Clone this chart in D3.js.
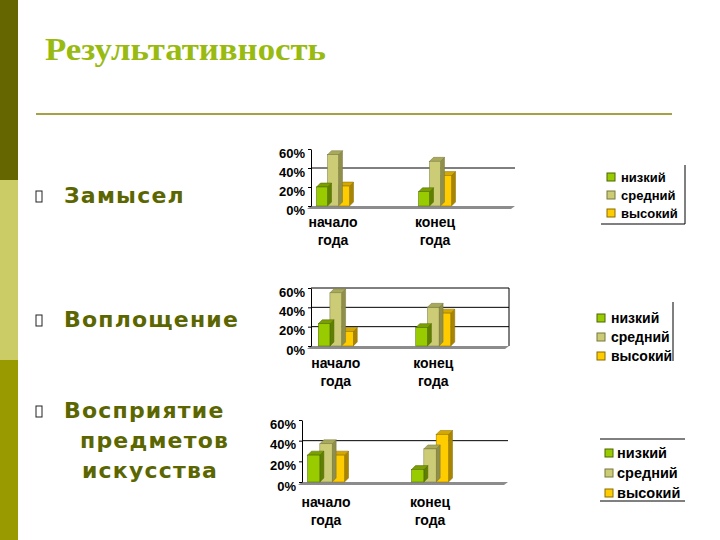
<!DOCTYPE html>
<html>
<head>
<meta charset="utf-8">
<script src="https://cdn.jsdelivr.net/npm/d3@7"></script>
<style>
  body { margin: 0; background: #fff; }
  svg { display: block; }
  .title { font-family: "Liberation Serif", "DejaVu Serif", "Times New Roman", serif; font-weight: bold; }
</style>
</head>
<body>
<div id="slide"></div>
<script>

// data
const categories = ["начало года", "конец года"];
const seriesNames = ["низкий", "средний", "высокий"];
const yTicks = [0, 20, 40, 60];

// per category: низкий, средний, высокий (%)
const zamysel = [[20, 54, 21], [15, 47, 32]];
const voploshchenie = [[23, 55, 15], [19, 40, 34]];
const vospriyatie = [[26, 37, 26], [12, 32, 46]];

const bulletLines = [
  { text: "Замысел", x: 64, y: 203, bullet: true },
  { text: "Воплощение", x: 64, y: 327, bullet: true },
  { text: "Восприятие", x: 64, y: 418, bullet: true },
  { text: "предметов", x: 80, y: 448, bullet: false },
  { text: "искусства", x: 82, y: 478, bullet: false }
];

const width = 720;
const height = 540;

const front = ["#99cc00", "#cccc77", "#ffcc00"];
const side = ["#5f7f00", "#8f8f4a", "#a88400"];
const topc = ["#7a9f00", "#a9a95c", "#d4a800"];
const edge = ["#4d6600", "#77773c", "#8a6c00"];

const svg = d3.select("#slide")
  .append("svg")
  .attr("width", width)
  .attr("height", height);

// left strip
const strip = [["#666600", 0, 180], ["#cccc66", 180, 360], ["#999900", 360, 540]];
svg.selectAll(".strip")
  .data(strip)
  .enter().append("rect")
  .attr("x", 0)
  .attr("y", d => d[1])
  .attr("width", 18)
  .attr("height", d => d[2] - d[1])
  .attr("fill", d => d[0]);

// title
svg.append("text")
  .attr("class", "title")
  .attr("x", 45)
  .attr("y", 60)
  .attr("font-size", 32)
  .attr("textLength", 281)
  .attr("lengthAdjust", "spacingAndGlyphs")
  .attr("fill", "#99bb11")
  .text("Результативность");

svg.append("line")
  .attr("x1", 36).attr("x2", 672)
  .attr("y1", 114).attr("y2", 114)
  .attr("stroke", "#a3a345")
  .attr("stroke-width", 2);

// bullets
const bl = svg.append("g")
  .style("font-family", "'DejaVu Sans', Verdana, sans-serif")
  .attr("font-weight", "bold")
  .attr("fill", "#5c6600");

bl.selectAll(".btext")
  .data(bulletLines)
  .enter().append("text")
  .attr("x", d => d.x)
  .attr("y", d => d.y)
  .attr("font-size", 22)
  .attr("letter-spacing", 1.2)
  .text(d => d.text);

bl.selectAll(".bmark")
  .data(bulletLines.filter(d => d.bullet))
  .enter().append("rect")
  .attr("x", 36)
  .attr("y", d => d.y - 12)
  .attr("width", 6)
  .attr("height", 11)
  .attr("fill", "none")
  .attr("stroke", "#222")
  .attr("stroke-width", 1);

function drawChart(values, c) {
  const g = svg.append("g");
  const d = 4;

  const y = d3.scaleLinear([0, 60], [c.base, c.top]);
  const x0 = d3.scaleBand(categories, c.band);
  const x1 = d3.scaleBand(seriesNames, [-c.groupW / 2, c.groupW / 2]);

  // floor
  g.append("polygon")
    .attr("points", [[c.axisX, c.base], [c.right, c.base], [c.right - 4, c.base + 3], [c.axisX - 4, c.base + 3]].join(" "))
    .attr("fill", "#8c8c8c");

  // gridlines on back wall
  g.selectAll(".grid")
    .data(c.grid)
    .enter().append("line")
    .attr("x1", c.axisX).attr("x2", c.right)
    .attr("y1", v => y(v)).attr("y2", v => y(v))
    .attr("stroke", "#000")
    .attr("stroke-width", 1);

  if (c.rightWall) {
    g.append("line")
      .attr("x1", c.right).attr("x2", c.right)
      .attr("y1", y(60)).attr("y2", c.base)
      .attr("stroke", "#000");
  }

  // y axis
  const yAxis = d3.axisLeft(y)
    .tickValues(yTicks)
    .tickSize(3)
    .tickSizeOuter(0)
    .tickPadding(3)
    .tickFormat(v => v + "%");

  const ga = g.append("g")
    .attr("transform", `translate(${c.axisX},0)`)
    .call(yAxis);
  ga.select(".domain").attr("stroke", "#000");
  ga.selectAll("line").attr("stroke", "#000");
  ga.selectAll("text")
    .attr("font-family", "Liberation Sans, Arial, sans-serif")
    .attr("font-weight", "bold")
    .attr("font-size", 13)
    .attr("fill", "#000")
    .attr("transform", "translate(0,4)");

  // bars
  const groups = g.selectAll(".grp")
    .data(values)
    .enter().append("g")
    .attr("transform", (v, i) => `translate(${x0(categories[i]) + x0.bandwidth() / 2},0)`);

  const bar = groups.selectAll(".bar")
    .data(v => v.map((val, k) => ({ val, k })))
    .enter().append("g");

  const w = x1.bandwidth();
  // draw right to left so side faces sit behind the next bar
  bar.sort((a, b) => b.k - a.k);

  bar.append("polygon")
    .attr("points", b => {
      const bx = x1(seriesNames[b.k]), by = y(b.val);
      return [[bx + w, by], [bx + w + d, by - d], [bx + w + d, c.base - d], [bx + w, c.base]].join(" ");
    })
    .attr("fill", b => side[b.k])
    .attr("stroke", b => edge[b.k])
    .attr("stroke-width", 0.5);

  bar.append("polygon")
    .attr("points", b => {
      const bx = x1(seriesNames[b.k]), by = y(b.val);
      return [[bx, by], [bx + d, by - d], [bx + w + d, by - d], [bx + w, by]].join(" ");
    })
    .attr("fill", b => topc[b.k])
    .attr("stroke", b => edge[b.k])
    .attr("stroke-width", 0.5);

  bar.append("rect")
    .attr("x", b => x1(seriesNames[b.k]))
    .attr("y", b => y(b.val))
    .attr("width", w)
    .attr("height", b => c.base - y(b.val))
    .attr("fill", b => front[b.k])
    .attr("stroke", b => edge[b.k])
    .attr("stroke-width", 0.5);

  // category labels
  const cl = g.selectAll(".cat")
    .data(categories)
    .enter().append("text")
    .attr("text-anchor", "middle")
    .attr("font-family", "Liberation Sans, Arial, sans-serif")
    .attr("font-weight", "bold")
    .attr("font-size", 14)
    .attr("fill", "#000");
  cl.each(function (t) {
    const cx = x0(t) + x0.bandwidth() / 2;
    t.split(" ").forEach((part, i) => {
      d3.select(this).append("tspan")
        .attr("x", cx)
        .attr("y", c.base + c.labelDy + i * 18)
        .text(part);
    });
  });

  // legend
  const lg = g.append("g");
  const items = lg.selectAll(".li")
    .data(seriesNames)
    .enter().append("g")
    .attr("transform", (s, i) => `translate(${c.legend.x},${c.legend.y + i * c.legend.step})`);
  items.append("rect")
    .attr("x", 0).attr("y", -4)
    .attr("width", 8).attr("height", 8)
    .attr("fill", (s, i) => front[i])
    .attr("stroke", (s, i) => edge[i])
    .attr("stroke-width", 1);
  items.append("text")
    .attr("x", c.legend.tx)
    .attr("y", 0)
    .attr("dy", "0.35em")
    .attr("font-family", "Liberation Sans, Arial, sans-serif")
    .attr("font-weight", "bold")
    .attr("font-size", c.legend.fs)
    .attr("fill", "#000")
    .text(s => s);

  c.legend.lines.forEach(l => {
    lg.append("line")
      .attr("x1", l[0]).attr("y1", l[1]).attr("x2", l[2]).attr("y2", l[3])
      .attr("stroke", "#000");
  });
}

drawChart(zamysel, {
  axisX: 311, right: 515, base: 206, top: 149, band: [282, 486], groupW: 33,
  grid: [40], rightWall: false, labelDy: 21,
  legend: { x: 607, y: 177, step: 18, tx: 14, fs: 13, lines: [[685, 165, 685, 224], [601, 224, 685, 224]] }
});

drawChart(voploshchenie, {
  axisX: 311, right: 509, base: 346, top: 288, band: [287, 482], groupW: 35,
  grid: [20, 40, 60], rightWall: true, labelDy: 22,
  legend: { x: 597, y: 318, step: 19, tx: 14, fs: 14, lines: [[673, 302, 673, 361]] }
});

drawChart(vospriyatie, {
  axisX: 302, right: 508, base: 482, top: 420, band: [274, 482], groupW: 37,
  grid: [40], rightWall: false, labelDy: 25,
  legend: { x: 605, y: 453, step: 20, tx: 12, fs: 14.5, lines: [[600, 439, 685, 439], [600, 501, 685, 501]] }
});

</script>
</body>
</html>
